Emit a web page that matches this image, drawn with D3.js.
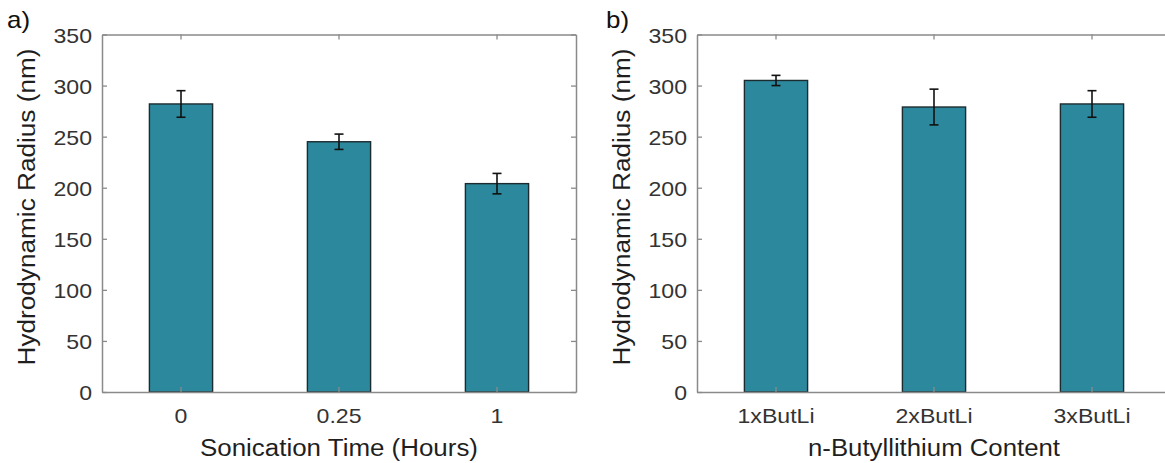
<!DOCTYPE html>
<html><head><meta charset="utf-8">
<script src="https://cdn.jsdelivr.net/npm/d3@7"></script>
<style>body{margin:0;background:#fff}svg{display:block}svg text{font-family:"Liberation Sans",Arial,sans-serif}</style>
</head><body><svg id="c" width="1165" height="463"></svg>
<script>
const catsA = ["0", "0.25", "1"];
const valsA = [282, 245, 204];
const errA = [13, 7.5, 10];
const catsB = ["1xButLi", "2xButLi", "3xButLi"];
const valsB = [305, 279, 282];
const errB = [5, 17.5, 13];
const yTicks = [0, 50, 100, 150, 200, 250, 300, 350];

const svg = d3.select("#c");
const plotTop = 34.5, plotBottom = 392, plotW = 474;

function widen(sel, k) {
  sel.each(function() {
    const w = this.getComputedTextLength();
    if (w > 0) d3.select(this).attr("textLength", w * k).attr("lengthAdjust", "spacingAndGlyphs");
  });
}

function panel(left, cats, vals, errs, xTitle, tag, tagX, titleLen) {
  const g = svg.append("g");
  const x = d3.scaleBand().domain(cats).range([left, left + plotW]).paddingInner(0.6).paddingOuter(0.3);
  const y = d3.scaleLinear().domain([0, 350]).range([plotBottom, plotTop]);
  const axisCol = "#8a8a8a";
  g.selectAll("rect.bar").data(cats).enter().append("rect")
    .attr("x", d => x(d)).attr("width", x.bandwidth())
    .attr("y", (d, i) => y(vals[i])).attr("height", (d, i) => y(0) - y(vals[i]))
    .attr("fill", "#2c899d").attr("stroke", "#1c2b30").attr("stroke-width", 1.4);
  const cx = d => x(d) + x.bandwidth() / 2;
  const eb = g.selectAll("g.err").data(cats).enter().append("g").attr("stroke", "#111").attr("stroke-width", 1.6);
  eb.append("line").attr("x1", cx).attr("x2", cx).attr("y1", (d, i) => y(vals[i] + errs[i])).attr("y2", (d, i) => y(vals[i] - errs[i]));
  eb.append("line").attr("x1", d => cx(d) - 4.5).attr("x2", d => cx(d) + 4.5).attr("y1", (d, i) => y(vals[i] + errs[i])).attr("y2", (d, i) => y(vals[i] + errs[i]));
  eb.append("line").attr("x1", d => cx(d) - 4.5).attr("x2", d => cx(d) + 4.5).attr("y1", (d, i) => y(vals[i] - errs[i])).attr("y2", (d, i) => y(vals[i] - errs[i]));
  const styleAxis = sel => {
    sel.attr("font-size", 21);
    sel.select(".domain").attr("stroke", axisCol).attr("stroke-width", 1.5);
    sel.selectAll(".tick line").attr("stroke", axisCol).attr("stroke-width", 1.3);
    sel.selectAll(".tick text").attr("fill", "#333");
  };
  const ya = g.append("g").attr("transform", `translate(${left},0)`)
    .call(d3.axisLeft(y).tickValues(yTicks).tickSizeInner(-5).tickSizeOuter(0).tickPadding(10)).call(styleAxis);
  ya.selectAll(".tick text").attr("dy", "0.36em").call(widen, 1.1);
  g.append("g").attr("transform", `translate(${left + plotW},0)`)
    .call(d3.axisRight(y).tickValues(yTicks).tickSizeInner(-5).tickSizeOuter(0).tickFormat("")).call(styleAxis);
  const xa = g.append("g").attr("transform", `translate(0,${plotBottom})`)
    .call(d3.axisBottom(x).tickSizeInner(-5).tickSizeOuter(0)).call(styleAxis);
  xa.selectAll(".tick text").attr("y", 31).attr("dy", 0).call(widen, 1.1);
  g.append("g").attr("transform", `translate(0,${plotTop})`)
    .call(d3.axisTop(x).tickSizeInner(-5).tickSizeOuter(0).tickFormat("")).call(styleAxis);
  g.append("text").attr("x", left + plotW / 2).attr("y", 456).attr("text-anchor", "middle")
    .attr("font-size", 23).attr("fill", "#1f1f1f").attr("textLength", titleLen).attr("lengthAdjust", "spacingAndGlyphs").text(xTitle);
  g.append("text").attr("transform", `translate(${left - 67},207) rotate(-90)`).attr("text-anchor", "middle")
    .attr("font-size", 23).attr("fill", "#1f1f1f").attr("textLength", 317).attr("lengthAdjust", "spacingAndGlyphs")
    .text("Hydrodynamic Radius (nm)");
  g.append("text").attr("x", tagX).attr("y", 28).attr("font-size", 24).attr("fill", "#111").call(t => t.text(tag)).call(widen, 1.08);
}
panel(102, catsA, valsA, errA, "Sonication Time (Hours)", "a)", 7, 278);
panel(697, catsB, valsB, errB, "n-Butyllithium Content", "b)", 606, 252);
</script></body></html>
